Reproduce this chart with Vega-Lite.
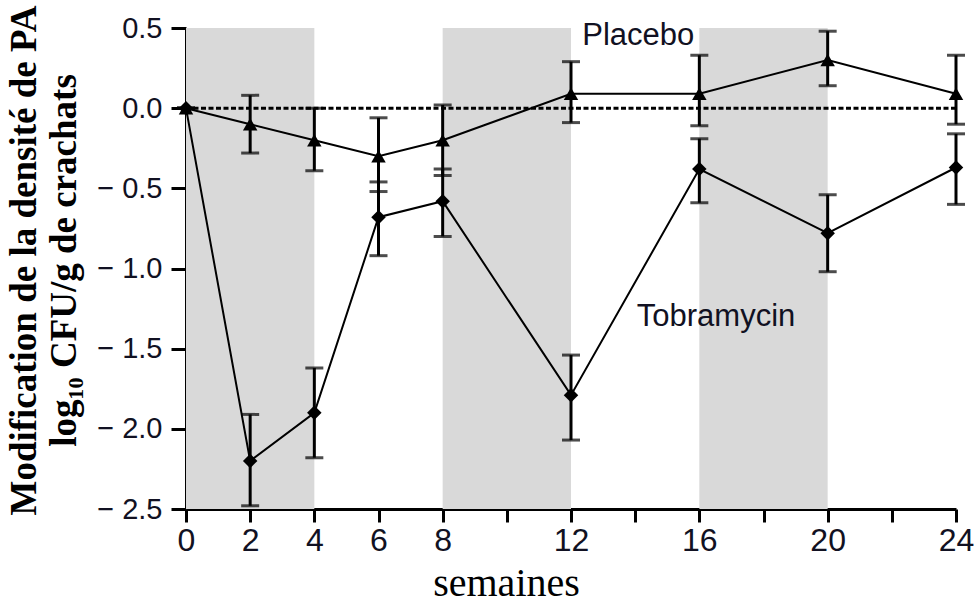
{
  "$schema": "https://vega.github.io/schema/vega-lite/v6.json",
  "width": 770,
  "height": 481,
  "autosize": "none",
  "padding": {"left": 186, "top": 28, "right": 24, "bottom": 97},
  "background": "white",
  "config": {"view": {"stroke": null}},
  "datasets": {
    "bands": [
      {"start": 0, "end": 4, "top": 0.5, "bottom": -2.5},
      {"start": 8, "end": 12, "top": 0.5, "bottom": -2.5},
      {"start": 16, "end": 20, "top": 0.5, "bottom": -2.5}
    ],
    "series": [
      {"group": "Placebo", "week": 0, "value": 0, "low": 0, "high": 0},
      {"group": "Placebo", "week": 2, "value": -0.1, "low": -0.28, "high": 0.08},
      {"group": "Placebo", "week": 4, "value": -0.2, "low": -0.39, "high": 0.0},
      {"group": "Placebo", "week": 6, "value": -0.3, "low": -0.52, "high": -0.06},
      {"group": "Placebo", "week": 8, "value": -0.2, "low": -0.42, "high": 0.02},
      {"group": "Placebo", "week": 12, "value": 0.09, "low": -0.09, "high": 0.29},
      {"group": "Placebo", "week": 16, "value": 0.09, "low": -0.11, "high": 0.33},
      {"group": "Placebo", "week": 20, "value": 0.3, "low": 0.14, "high": 0.48},
      {"group": "Placebo", "week": 24, "value": 0.09, "low": -0.1, "high": 0.33},
      {"group": "Tobramycin", "week": 0, "value": 0, "low": 0, "high": 0},
      {"group": "Tobramycin", "week": 2, "value": -2.2, "low": -2.48, "high": -1.91},
      {"group": "Tobramycin", "week": 4, "value": -1.9, "low": -2.18, "high": -1.62},
      {"group": "Tobramycin", "week": 6, "value": -0.68, "low": -0.92, "high": -0.46},
      {"group": "Tobramycin", "week": 8, "value": -0.58, "low": -0.8, "high": -0.38},
      {"group": "Tobramycin", "week": 12, "value": -1.79, "low": -2.07, "high": -1.54},
      {"group": "Tobramycin", "week": 16, "value": -0.38, "low": -0.59, "high": -0.19},
      {"group": "Tobramycin", "week": 20, "value": -0.78, "low": -1.02, "high": -0.54},
      {"group": "Tobramycin", "week": 24, "value": -0.37, "low": -0.6, "high": -0.16}
    ],
    "labels": [
      {"label": "Placebo", "week": 12.35, "value": 0.45},
      {"label": "Tobramycin", "week": 14.05, "value": -1.3}
    ],
    "zero": [{"from": 0, "to": 24, "value": 0}]
  },
  "encoding": {
    "x": {
      "field": "week", "type": "quantitative",
      "scale": {"domain": [0, 24], "nice": false, "zero": false},
      "axis": {
        "values": [0, 2, 4, 6, 8, 10, 12, 14, 16, 18, 20, 22, 24],
        "labelExpr": "indexof([10, 14, 18, 22], datum.value) >= 0 ? '' : datum.label",
        "grid": false,
        "domainColor": "black", "domainWidth": 3,
        "tickColor": "black", "tickWidth": 3, "tickSize": 13,
        "labelFont": "Liberation Sans", "labelFontSize": 32, "labelColor": "#111122",
        "labelPadding": 3, "labelFlush": false,
        "title": "semaines",
        "titleFont": "Liberation Serif", "titleFontSize": 40, "titleFontWeight": "normal", "titleColor": "black",
        "titleX": 320, "titleY": 86, "titleBaseline": "alphabetic", "titleAlign": "center"
      }
    },
    "y": {
      "field": "value", "type": "quantitative",
      "scale": {"domain": [-2.5, 0.5], "nice": false, "zero": false},
      "axis": {
        "values": [-2.5, -2, -1.5, -1, -0.5, 0, 0.5],
        "format": ".1f",
        "labelExpr": "replace(datum.label, '−', '− ')",
        "grid": false,
        "domainColor": "black", "domainWidth": 3,
        "tickColor": "black", "tickWidth": 3, "tickSize": 15,
        "labelFont": "Liberation Sans", "labelFontSize": 29, "labelColor": "#111122",
        "labelPadding": 9,
        "title": ["Modification de la densité de PA", "log₁₀ CFU/g de crachats"],
        "titleFont": "Liberation Serif", "titleFontSize": 37, "titleFontWeight": "bold", "titleColor": "black",
        "titleLineHeight": 40, "titleAngle": -90,
        "titleX": -180, "titleY": 232, "titleBaseline": "top", "titleAlign": "center"
      }
    }
  },
  "layer": [
    {
      "data": {"name": "bands"},
      "mark": {"type": "rect", "color": "#d9d9d9"},
      "encoding": {
        "x": {"field": "start", "type": "quantitative"},
        "x2": {"field": "end"},
        "y": {"field": "top", "type": "quantitative"},
        "y2": {"field": "bottom"}
      }
    },
    {
      "data": {"name": "zero"},
      "mark": {"type": "rule", "color": "black", "strokeWidth": 3, "strokeDash": [5, 2.5]},
      "encoding": {
        "x": {"field": "from", "type": "quantitative"},
        "x2": {"field": "to"},
        "y": {"field": "value", "type": "quantitative"}
      }
    },
    {
      "data": {"name": "series"},
      "mark": {"type": "line", "color": "black", "strokeWidth": 2},
      "encoding": {
        "detail": {"field": "group"}
      }
    },
    {
      "data": {"name": "series"},
      "mark": {"type": "rule", "color": "black", "strokeWidth": 3},
      "encoding": {
        "y": {"field": "low", "type": "quantitative"},
        "y2": {"field": "high"}
      }
    },
    {
      "data": {"name": "series"},
      "mark": {"type": "tick", "color": "black", "orient": "horizontal", "size": 18, "thickness": 3},
      "encoding": {
        "y": {"field": "low", "type": "quantitative"}
      }
    },
    {
      "data": {"name": "series"},
      "mark": {"type": "tick", "color": "black", "orient": "horizontal", "size": 18, "thickness": 3},
      "encoding": {
        "y": {"field": "high", "type": "quantitative"}
      }
    },
    {
      "data": {"name": "series"},
      "mark": {"type": "point", "filled": true, "color": "black", "opacity": 1, "size": 210},
      "encoding": {
        "shape": {
          "field": "group", "type": "nominal",
          "scale": {"domain": ["Placebo", "Tobramycin"], "range": ["triangle-up", "diamond"]},
          "legend": null
        }
      }
    },
    {
      "data": {"name": "labels"},
      "mark": {"type": "text", "align": "left", "baseline": "middle", "font": "Liberation Sans", "fontSize": 31, "color": "#111122"},
      "encoding": {
        "text": {"field": "label"}
      }
    }
  ]
}
